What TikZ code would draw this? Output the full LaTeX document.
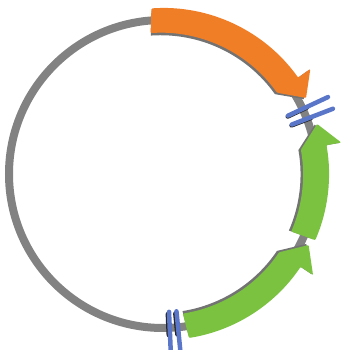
\documentclass[tikz,border=0pt]{standalone}
\usepackage{tikz}
\usetikzlibrary{calc}
\definecolor{anillo}{RGB}{130,130,130}
\definecolor{naranja}{RGB}{240,126,38}
\definecolor{verde}{RGB}{122,194,64}
\definecolor{azul}{RGB}{90,118,200}
\tikzset{
  ring/.style={draw=anillo, line width=8pt},
  cutsite/.style={draw=azul, line width=4.5pt, line cap=round},
  cutshadow/.style={draw=black!85, line width=4.5pt, line cap=round},
  geneshadow/.style={fill=black!55},
  gene/.style={fill=#1, rounded corners=1pt}
}
% Flecha curva sobre el anillo: #1 estilo, #2 angulo inicial, #3 base de la punta, #4 punta, #5 radio
\newcommand{\genearrow}[5]{%
  \fill[#1] (#2:{#5+12}) arc[start angle=#2, end angle=#3, radius={#5+12}]
    -- (#3:{#5+27}) -- (#4:{#5+8}) -- (#3:{#5-14})
    arc[start angle=#3, end angle=#2, radius={#5-11}] -- cycle;}

\begin{document}
\begin{tikzpicture}[x=1pt, y=1pt]
  \useasboundingbox (0,0) rectangle (344,350);
  \coordinate (c) at (163,176);

  \begin{scope}[shift={(c)}]
    % Anillo del plasmido
    \draw[ring] (0,0) circle[radius=154];

    % Sombras de los genes
    \genearrow{geneshadow}{94}{35.5}{28}{151.5}
    \genearrow{geneshadow}{-23.5}{10}{18}{151.5}
    \genearrow{geneshadow}{-81}{-34}{-26}{151.5}

    % Genes
    \genearrow{gene=naranja}{94}{35.5}{28}{154}
    \genearrow{gene=verde}{-23.5}{10}{18}{154}
    \genearrow{gene=verde}{-81}{-34}{-26}{154}

    % Sitios de corte
    \foreach \a/\r in {25/182,21/182,-87.5/188,-84.4/188} {
      \draw[cutshadow] ([shift={(-1.2,-1.2)}]\a:139) -- ([shift={(-1.2,-1.2)}]\a:160);
      \draw[cutsite] (\a:138) -- (\a:\r);
    }
  \end{scope}
\end{tikzpicture}
\end{document}
